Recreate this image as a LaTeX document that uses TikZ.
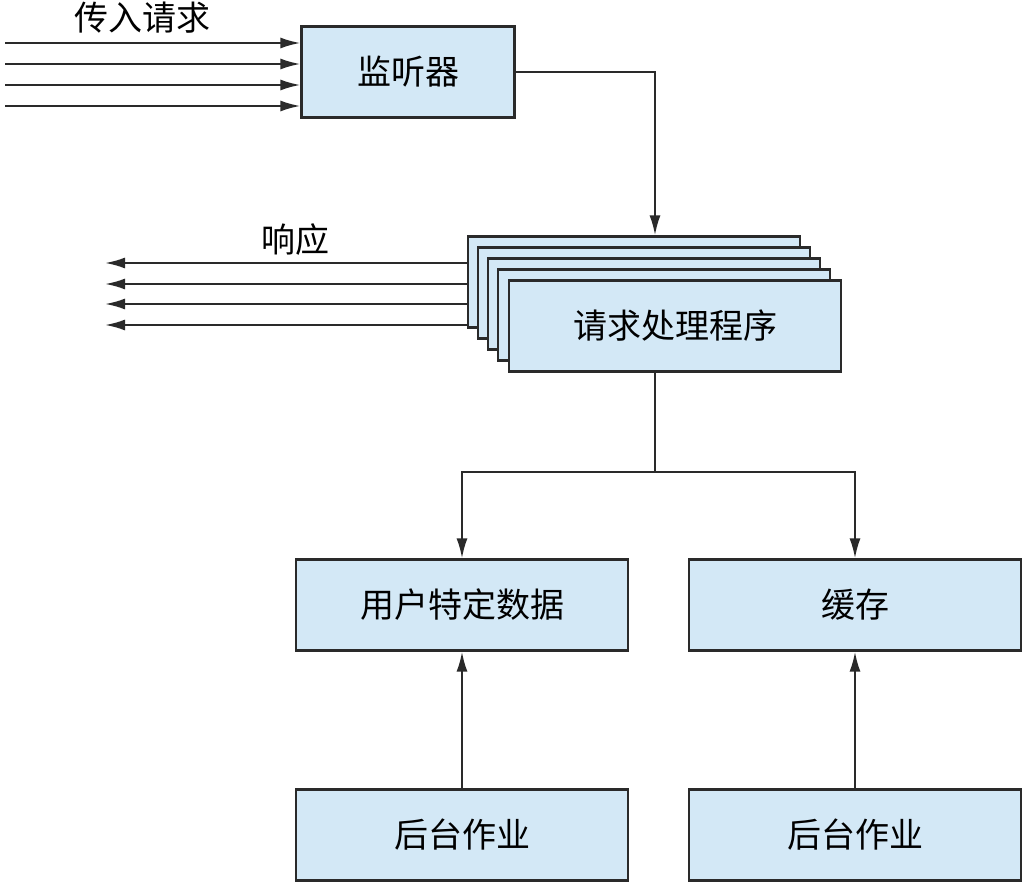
\documentclass[tikz,border=0pt]{standalone}
\usepackage{fontspec}
\setmainfont{Noto Sans CJK SC}
\usetikzlibrary{positioning,arrows.meta}
\definecolor{boxblue}{HTML}{D3E8F6}
\definecolor{edgegray}{HTML}{2A2A2A}

\begin{document}
\begin{tikzpicture}[
  x=0.5pt, y=-0.5pt,
  font=\fontsize{17}{20}\selectfont,
  every node/.style={align=center},
  block/.style  ={draw=edgegray, line width=1.1pt, fill=boxblue, minimum height=45.5pt, inner sep=0pt},
  wideblock/.style={block, minimum width=166pt},
  flow/.style   ={-{Latex[length=10pt, width=5.5pt]}, line width=1.1pt, draw=edgegray},
  plain/.style  ={line width=1.1pt, draw=edgegray},
  lbl/.style    ={inner sep=1pt},
]
\useasboundingbox (0,0) rectangle (1024,882);

\node[block, minimum width=106.5pt] (listener) at (408,72) {监听器};
\node[lbl] (inlabel) at (143,18) {传入请求};

\node[wideblock] (handler1) at (634,282) {};
\node[wideblock] (handler2) at (644,293) {};
\node[wideblock] (handler3) at (654,304) {};
\node[wideblock] (handler4) at (664,315) {};
\node[wideblock] (handler)  at (675,326) {请求处理程序};
\node[lbl] (outlabel) at (295,240) {响应};

\node[wideblock] (userdata) at (462,605) {用户特定数据};
\node[wideblock] (cache)    at (855,605) {缓存};
\node[wideblock] (job1)     at (462,835) {后台作业};
\node[wideblock] (job2)     at (855,835) {后台作业};

\coordinate (split) at (655,472);

\coordinate (in1) at (5,43);
\coordinate (in2) at (5,64);
\coordinate (in3) at (5,85);
\coordinate (in4) at (5,106);
\coordinate (out1) at (105,263);
\coordinate (out2) at (105,284);
\coordinate (out3) at (105,304);
\coordinate (out4) at (105,325);

\draw[flow] (in1) -- (in1 -| listener.west);
\draw[flow] (in2) -- (in2 -| listener.west);
\draw[flow] (in3) -- (in3 -| listener.west);
\draw[flow] (in4) -- (in4 -| listener.west);

\draw[flow] (out1 -| handler1.west) -- (out1);
\draw[flow] (out2 -| handler1.west) -- (out2);
\draw[flow] (out3 -| handler1.west) -- (out3);
\draw[flow] (out4 -| handler1.west) -- (out4);

\draw[flow] (listener.east) -| (split |- handler1.north);
\draw[plain] (split |- handler.south) -- (split);
\draw[flow] (split) -| (userdata.north);
\draw[flow] (split) -| (cache.north);

\draw[flow] (job1) -- (userdata);
\draw[flow] (job2) -- (cache);

\end{tikzpicture}
\end{document}
